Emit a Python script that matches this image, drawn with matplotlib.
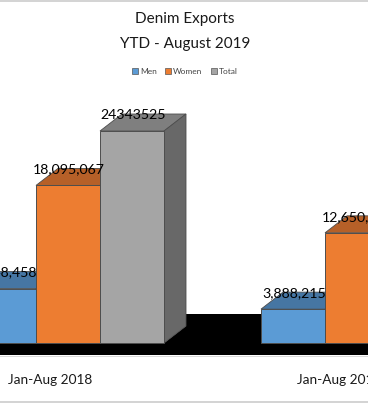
import matplotlib
matplotlib.use('Agg')
import matplotlib.pyplot as plt
from matplotlib.patches import Polygon, Rectangle

plt.rcParams['font.family'] = ['Lato', 'DejaVu Sans']

periods = ['Jan-Aug 2018', 'Jan-Aug 2019']
men = [6248458, 3888215]
women = [18095067, 12650000]
total = [24343525, 16538215]
men_labels = ['6,248,458', '3,888,215']
women_labels = ['18,095,067', '12,650,000']
total_labels = ['24343525', '16538215']

W, H = 368, 403
GROUP_PX = 289.0
X0 = 68.0
BASE = 343.0
K = 24343525 / 212.0  # value per pixel

bar_w = 64 / GROUP_PX
dx = 22 / GROUP_PX
dy = 17 * K

fig = plt.figure(figsize=(W / 100, H / 100), dpi=100)
ax = fig.add_axes([0, 0, 1, 1])
ax.set_xlim(-X0 / GROUP_PX, (W - X0) / GROUP_PX)
ax.set_ylim(-(H - BASE) * K, BASE * K)
ax.axis('off')


def px(x, y):
    return (x - X0) / GROUP_PX, (BASE - y) * K


# black floor / wall
floor = [px(0, 343), px(164, 343), px(186, 326), px(186, 314), px(368, 314),
         px(368, 355), px(0, 355)]
ax.add_patch(Polygon(floor, closed=True, fc='black', ec='none', zorder=1))
ax.add_patch(Polygon([px(0, 355.5), px(368, 355.5), px(368, 356.5), px(0, 356.5)],
                     closed=True, fc='#d9d9d9', ec='none', zorder=1))
ax.add_patch(Polygon([px(0, 0), px(368, 0), px(368, 2), px(0, 2)],
                     closed=True, fc='#d4d4d4', ec='none', zorder=1))
ax.add_patch(Polygon([px(0, 401), px(368, 401), px(368, 403), px(0, 403)],
                     closed=True, fc='#d4d4d4', ec='none', zorder=1))

series = [
    ('Men', men, men_labels, -1, '#5b9bd5', '#4676a3', '#3f6a93'),
    ('Women', women, women_labels, 0, '#ed7d31', '#b66028', '#a35524'),
    ('Total', total, total_labels, 1, '#a5a5a5', '#7f7f7f', '#686868'),
]

z = 2
for name, vals, labels, off, front, top, side in series:
    for i, v in enumerate(vals):
        left = i + off * bar_w - bar_w / 2
        right = left + bar_w
        ax.add_patch(Polygon([(left, v), (right, v), (right + dx, v + dy), (left + dx, v + dy)],
                             closed=True, fc=top, ec='#4d4d4d', lw=0.6, zorder=z))
        ax.add_patch(Polygon([(right, 0), (right + dx, dy), (right + dx, v + dy), (right, v)],
                             closed=True, fc=side, ec='#4d4d4d', lw=0.6, zorder=z))
        ax.bar(left + bar_w / 2, v, bar_w, color=front, edgecolor='#4d4d4d', lw=0.7, zorder=z + 1)
    z += 2

for name, vals, labels, off, front, top, side in series:
    for i, v in enumerate(vals):
        ax.text(i + off * bar_w + 1 / GROUP_PX, v + 10 * K, labels[i], ha='center', va='bottom',
                fontsize=10.2, color='black', zorder=20)

for i, p in enumerate(periods):
    ax.text(i - 18 / GROUP_PX, -36.5 * K, p, ha='center', va='center', fontsize=9.8, color='#1a1a1a', zorder=20)

fig.text(184.5 / W, 1 - 19.5 / H, 'Denim Exports', ha='center', va='center', fontsize=11, color='#1a1a1a')
fig.text(185.5 / W, 1 - 44 / H, 'YTD - August 2019', ha='center', va='center', fontsize=11, color='#1a1a1a')

handles = [Rectangle((0, 0), 1, 1, fc=s[4], ec='#555555', lw=0.5) for s in series]
fig.legend(handles, [s[0] for s in series], ncol=3, loc='center', bbox_to_anchor=(185 / W, 1 - 71 / H),
           frameon=False, fontsize=6, handlelength=0.7, handleheight=0.7, handletextpad=0.25,
           columnspacing=1.0, labelcolor='#444444')

fig.savefig('out.png', dpi=100)
